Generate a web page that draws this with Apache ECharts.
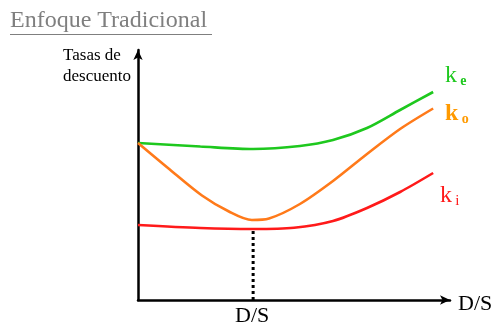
<!DOCTYPE html>
<html>
<head>
<meta charset="utf-8">
<script src="https://cdn.jsdelivr.net/npm/echarts@6/dist/echarts.min.js"></script>
<style>
  html, body { margin: 0; padding: 0; background: #fff; }
  #chart { width: 493px; height: 326px; }
</style>
</head>
<body>
<div id="chart"></div>
<script>
// Traditional approach: cost of equity (ke), weighted cost (ko) and cost of debt (ki)
// against leverage D/S, in arbitrary units (0–100 on both axes).
var leverage_ke = [0, 20, 36.9, 51.9, 62.5, 73.4, 84, 94.6];
var cost_ke     = [62.8, 61.4, 60.4, 61.6, 64.0, 68.8, 76.0, 83.2];

var leverage_ko = [0, 9.6, 20.5, 29, 36.5, 42, 51.9, 62.5, 73.4, 84, 94.6];
var cost_ko     = [62.8, 52.8, 41.8, 35.5, 32.0, 32.6, 38.4, 47.6, 58.4, 68.4, 76.6];

var leverage_ki = [0, 20, 36.9, 50, 62.5, 73.4, 84, 94.6];
var cost_ki     = [30.0, 28.8, 28.4, 28.9, 31.6, 36.8, 43.2, 50.8];

// optimal leverage, where ko bottoms out
var optimalDS = 36.9;
var optimalLine = [[optimalDS, 0], [optimalDS, 27.6]];

function pairs(xs, ys) { return xs.map(function (x, i) { return [x, ys[i]]; }); }

var serif = '"Liberation Serif", "Times New Roman", serif';
var chart = echarts.init(document.getElementById('chart'));

chart.setOption({
  backgroundColor: '#fff',
  animation: false,
  grid: { left: 138, right: 43, top: 50, bottom: 26 },
  xAxis: {
    type: 'value', min: 0, max: 100,
    axisLine: { show: true, lineStyle: { color: '#000', width: 2.5 }, symbol: ['none', 'arrow'], symbolSize: [7, 10] },
    axisTick: { show: false }, axisLabel: { show: false }, splitLine: { show: false }
  },
  yAxis: {
    type: 'value', min: 0, max: 100,
    axisLine: { show: true, lineStyle: { color: '#000', width: 2.5 }, symbol: ['none', 'arrow'], symbolSize: [7, 10] },
    axisTick: { show: false }, axisLabel: { show: false }, splitLine: { show: false }
  },
  series: [
    {
      name: 'ke', type: 'line', smooth: 0.3, symbol: 'none',
      data: pairs(leverage_ke, cost_ke),
      lineStyle: { color: '#1ec81e', width: 2.6 }
    },
    {
      name: 'ko', type: 'line', smooth: 0.3, symbol: 'none',
      data: pairs(leverage_ko, cost_ko),
      lineStyle: { color: '#ff7a1a', width: 2.6 }
    },
    {
      name: 'ki', type: 'line', smooth: 0.3, symbol: 'none',
      data: pairs(leverage_ki, cost_ki),
      lineStyle: { color: '#ff1a1a', width: 2.6 }
    },
    {
      name: 'optimo', type: 'line', symbol: 'none',
      data: optimalLine,
      lineStyle: { color: '#000', width: 3, type: [3, 3] }
    }
  ],
  graphic: [
    {
      type: 'text', left: 10, top: 9,
      style: { text: 'Enfoque Tradicional', font: '24px ' + serif, fill: '#7f7f7f' }
    },
    {
      type: 'line', shape: { x1: 10, y1: 34.5, x2: 212, y2: 34.5 },
      style: { stroke: '#7f7f7f', lineWidth: 1 }
    },
    {
      type: 'text', right: 493 - 131, top: 45,
      style: { text: 'Tasas de\ndescuento', font: '17px ' + serif, fill: '#000', align: 'right', lineHeight: 21 }
    },
    {
      type: 'text', left: 445, top: 64,
      style: {
        text: '{k|k} {s|e}', fill: '#1ec81e',
        rich: { k: { font: '24px ' + serif, fill: '#1ec81e' }, s: { font: 'bold 14px ' + serif, fill: '#1ec81e', padding: [10, 0, 0, 0] } }
      }
    },
    {
      type: 'text', left: 445, top: 102,
      style: {
        text: '{k|k} {s|o}', fill: '#ff9a00',
        rich: { k: { font: 'bold 24px ' + serif, fill: '#ff9a00' }, s: { font: 'bold 14px ' + serif, fill: '#ff9a00', padding: [10, 0, 0, 0] } }
      }
    },
    {
      type: 'text', left: 440, top: 184,
      style: {
        text: '{k|k} {s|i}', fill: '#ff1a1a',
        rich: { k: { font: '24px ' + serif, fill: '#ff1a1a' }, s: { font: '15px ' + serif, fill: '#ff1a1a', padding: [10, 0, 0, 0] } }
      }
    },
    {
      type: 'text', left: 235, top: 305,
      style: { text: 'D/S', font: '22px ' + serif, fill: '#000' }
    },
    {
      type: 'text', left: 458, top: 293,
      style: { text: 'D/S', font: '22px ' + serif, fill: '#000' }
    }
  ]
});
</script>
</body>
</html>
